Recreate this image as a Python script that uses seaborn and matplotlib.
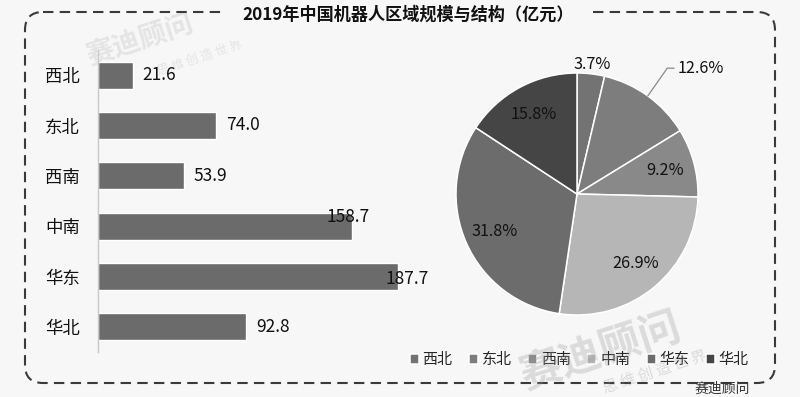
import matplotlib
matplotlib.use('Agg')
import matplotlib.pyplot as plt
import seaborn as sns
import numpy as np
import pandas as pd
from matplotlib.patches import FancyBboxPatch

# data
regions = ['西北', '东北', '西南', '中南', '华东', '华北']
scale = [21.6, 74.0, 53.9, 158.7, 187.7, 92.8]
share_labels = ['3.7%', '12.6%', '9.2%', '26.9%', '31.8%', '15.8%']
title = '2019年中国机器人区域规模与结构（亿元）'

# style
bar_color = '#6b6b6b'
pie_colors = ['#737373', '#7d7d7d', '#898989', '#b6b6b6', '#6c6c6c', '#454545']
bg_color = '#f7f7f7'
label_shift = {'中南': (-25, 6.5), '华东': (-16, -2)}

sns.set_theme(style='white')
plt.rcParams['font.family'] = ['Noto Sans CJK SC', 'DejaVu Sans']

W, H = 800, 397
fig = plt.figure(figsize=(8, 3.97), dpi=100, facecolor=bg_color)

# dashed rounded frame, drawn in pixel coordinates
bg = fig.add_axes([0, 0, 1, 1], zorder=-1)
bg.set_xlim(0, W)
bg.set_ylim(H, 0)
bg.axis('off')
bg.add_patch(FancyBboxPatch((25, 12), 750, 371, boxstyle='round,pad=0,rounding_size=18',
                            fill=False, edgecolor='#3a3a3a', linewidth=1.5,
                            linestyle=(0, (5, 3))))

# faint watermarks
fig.text(600 / W, 1 - 352 / H, '赛迪顾问', ha='center', va='center', fontsize=30,
         fontweight='bold', rotation=18, color='#9a9a9a', alpha=0.3, zorder=10)
fig.text(655 / W, 1 - 372 / H, '思 维 创 造 世 界', ha='center', va='center', fontsize=11,
         rotation=18, color='#9a9a9a', alpha=0.3, zorder=10)
fig.text(140 / W, 1 - 40 / H, '赛迪顾问', ha='center', va='center', fontsize=20,
         fontweight='bold', rotation=18, color='#9a9a9a', alpha=0.2, zorder=-2)
fig.text(200 / W, 1 - 58 / H, '思 维 创 造 世 界', ha='center', va='center', fontsize=9,
         rotation=18, color='#9a9a9a', alpha=0.2, zorder=-2)

# 1. bar chart
df = pd.DataFrame({'region': regions, 'scale': scale})
ax = fig.add_axes([98 / W, 1 - 352 / H, 320 / W, 302 / H])
sns.barplot(data=df, x='scale', y='region', orient='h', color=bar_color,
            saturation=1, width=0.54, ax=ax)
ax.set_facecolor('none')
ax.set_xlim(0, 200)
ax.set_xlabel('')
ax.set_ylabel('')
ax.set_xticks([])
sns.despine(ax=ax, top=True, right=True, bottom=True)
ax.spines['left'].set_color('#c8c8c8')
ax.spines['left'].set_linewidth(1)
ax.tick_params(axis='y', length=0, pad=13, labelsize=12.5, labelcolor='#111111')
texts = ax.bar_label(ax.containers[0], fmt='%.1f', padding=7, fontsize=12.5, color='#111111')
for reg, t in zip(regions, texts):
    if reg in label_shift:
        dx, dy = label_shift[reg]
        t.xyann = (7 + dx, dy)

# 2. pie chart
pax = fig.add_axes([(577 - 121) / W, 1 - (194 + 121) / H, 242 / W, 242 / H])
wedges, _ = pax.pie(scale, colors=pie_colors, startangle=90, counterclock=False,
                    wedgeprops=dict(edgecolor='white', linewidth=1.1))
pax.set_xlim(-1, 1)
pax.set_ylim(-1, 1)

for i, (w, lab) in enumerate(zip(wedges, share_labels)):
    ang = np.deg2rad((w.theta1 + w.theta2) / 2)
    if i == 1:
        pax.annotate(lab, xy=(np.cos(ang), np.sin(ang)), xytext=(0.83, 1.04),
                     ha='left', va='center', fontsize=11.7, color='#111111',
                     arrowprops=dict(arrowstyle='-', color='#8a8a8a', lw=0.9,
                                     shrinkA=0, shrinkB=0,
                                     connectionstyle='angle,angleA=180,angleB=55,rad=0'))
        continue
    r = 1.08 if i == 0 else 0.75
    pax.text(r * np.cos(ang), r * np.sin(ang), lab, ha='center', va='center',
             fontsize=11.7, color='#111111')

fig.legend(wedges, regions, loc='center', bbox_to_anchor=(579 / W, 1 - 360 / H),
           ncol=6, frameon=False, fontsize=10.8, handlelength=0.6, handleheight=0.6,
           handletextpad=0.25, columnspacing=1.1)

# title sits on the top edge of the frame
fig.text(408 / W, 1 - 15 / H, title, ha='center', va='center', fontsize=12.3,
         fontweight='bold', color='#111111',
         bbox=dict(boxstyle='square,pad=1.0', facecolor=bg_color, edgecolor='none'))

fig.text(722 / W, 1 - 389 / H, '赛迪顾问', ha='center', va='center', fontsize=10,
         color='#333333')

fig.savefig('out.png', dpi=100, facecolor=bg_color)
